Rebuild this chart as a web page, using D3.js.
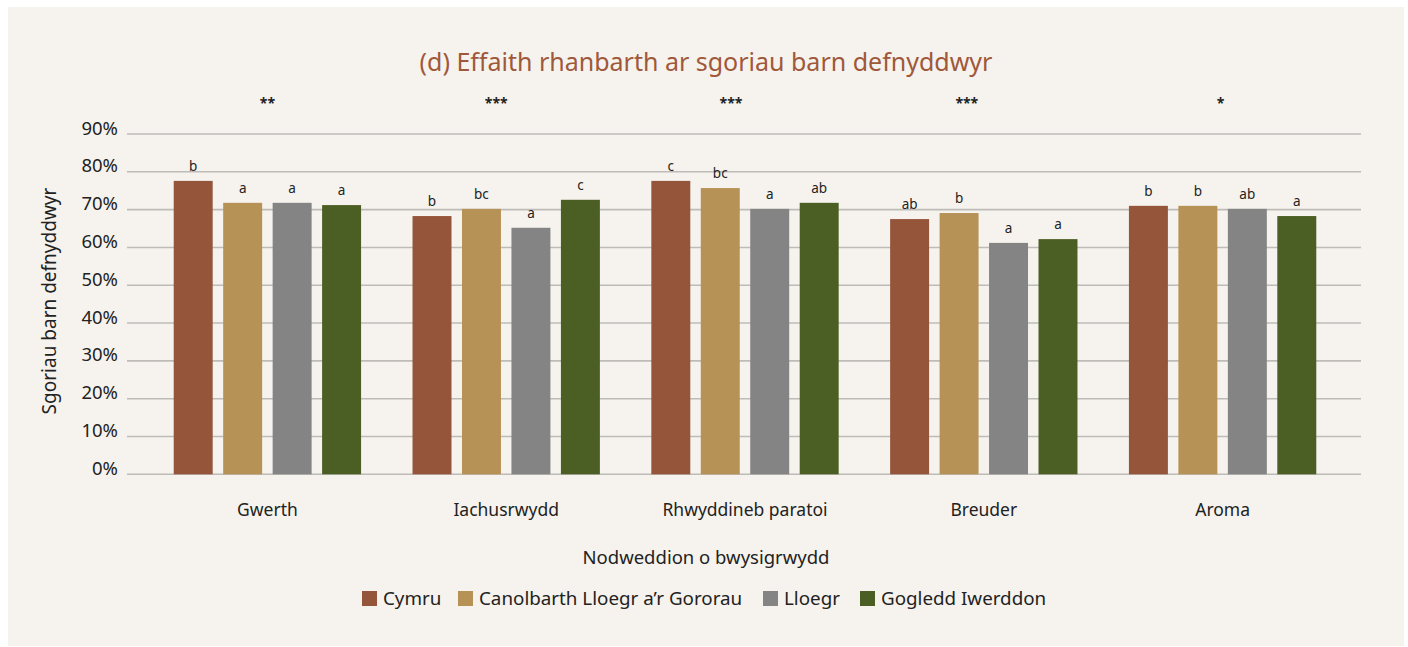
<!DOCTYPE html>
<html>
<head>
<meta charset="utf-8">
<script src="https://cdn.jsdelivr.net/npm/d3@7"></script>
<style>
  html, body { margin: 0; padding: 0; background: #ffffff; }
  svg { display: block; }
  text { font-family: "Noto Sans", Lato, sans-serif; }
</style>
</head>
<body>
<svg id="chart" width="1408" height="647"></svg>
<script>
// ---- data ----
const categories = ["Gwerth", "Iachusrwydd", "Rhwyddineb paratoi", "Breuder", "Aroma"];
const seriesNames = ["Cymru", "Canolbarth Lloegr a\u2019r Gororau", "Lloegr", "Gogledd Iwerddon"];
const cymru      = [0.776, 0.683, 0.776, 0.675, 0.710];
const canolbarth = [0.718, 0.702, 0.757, 0.691, 0.710];
const lloegr     = [0.718, 0.652, 0.702, 0.612, 0.702];
const gogledd    = [0.712, 0.726, 0.718, 0.622, 0.683];
const letters = [
  ["b", "a", "a", "a"],
  ["b", "bc", "a", "c"],
  ["c", "bc", "a", "ab"],
  ["ab", "b", "a", "a"],
  ["b", "b", "ab", "a"]
];
const significance = ["**", "***", "***", "***", "*"];
const yTicks = [0, 0.1, 0.2, 0.3, 0.4, 0.5, 0.6, 0.7, 0.8, 0.9];
const titleText = "(d) Effaith rhanbarth ar sgoriau barn defnyddwyr";
const yTitle = "Sgoriau barn defnyddwyr";
const xTitle = "Nodweddion o bwysigrwydd";

// ---- layout / styles ----
const colors = ["#94553A", "#B69256", "#848484", "#4B5E24"];
const values = [cymru, canolbarth, lloegr, gogledd];
const starNudge = [0, -10, -14, -17, -2];   // horizontal nudge of the significance marks
const fontFamily = "'Noto Sans', Lato, sans-serif";

const svg = d3.select("#chart");
svg.append("rect").attr("x", 8).attr("y", 7).attr("width", 1396).attr("height", 639)
  .attr("fill", "#F6F3EE");

const y = d3.scaleLinear().domain([0, 0.9]).range([474.3, 134]);
const gridLeft = 127, gridRight = 1361;
const x0 = d3.scaleBand().domain(categories).range([148, 1342]);
const x1 = d3.scaleBand().domain(seriesNames).range([0, x0.bandwidth()])
  .paddingInner(0.212).paddingOuter(0.52);

// gridlines
svg.append("g").selectAll("line").data(yTicks).join("line")
  .attr("x1", gridLeft).attr("x2", gridRight)
  .attr("y1", d => y(d)).attr("y2", d => y(d))
  .attr("stroke", "#BEBCB8").attr("stroke-width", 1.6);

// y axis tick labels
const yAxis = d3.axisLeft(y).tickValues(yTicks).tickFormat(d3.format(".0%")).tickSize(0).tickPadding(0);
const yg = svg.append("g").attr("transform", `translate(${gridLeft - 9},0)`).call(yAxis);
yg.select(".domain").remove();
yg.selectAll("text").attr("font-size", 18.5).attr("fill", "#222").attr("dy", "0em")
  .style("font-family", fontFamily);

// bars
const groups = svg.append("g").selectAll("g").data(categories).join("g")
  .attr("transform", d => `translate(${x0(d)},0)`);
groups.each(function(cat, ci) {
  const g = d3.select(this);
  seriesNames.forEach((s, si) => {
    const v = values[si][ci];
    g.append("rect")
      .attr("x", x1(s)).attr("width", x1.bandwidth())
      .attr("y", y(v)).attr("height", y(0) - y(v))
      .attr("fill", colors[si]);
    g.append("text")
      .attr("x", x1(s) + x1.bandwidth() / 2).attr("y", y(v) - 10)
      .attr("text-anchor", "middle").attr("font-size", 13.5).attr("fill", "#222")
      .text(letters[ci][si]);
  });
  g.append("text")
    .attr("x", x0.bandwidth() / 2 + starNudge[ci]).attr("y", 108)
    .attr("text-anchor", "middle").attr("font-size", 14).attr("font-weight", "bold").attr("fill", "#222")
    .text(significance[ci]);
});

// x axis category labels
const xAxis = d3.axisBottom(x0).tickSize(0).tickPadding(0);
const xg = svg.append("g").attr("transform", `translate(0,516)`).call(xAxis);
xg.select(".domain").remove();
xg.selectAll("text").attr("font-size", 17.5).attr("fill", "#222").attr("dy", "0em")
  .attr("y", 0).style("dominant-baseline", "alphabetic")
  .style("font-family", fontFamily);

// title
svg.append("text").attr("x", 706).attr("y", 71).attr("text-anchor", "middle")
  .attr("font-size", 25).attr("fill", "#A0583A").text(titleText);

// axis titles
svg.append("text").attr("transform", "translate(56,301) rotate(-90)")
  .attr("text-anchor", "middle").attr("font-size", 19).attr("fill", "#222").text(yTitle);
svg.append("text").attr("x", 706).attr("y", 564).attr("text-anchor", "middle")
  .attr("font-size", 18.5).attr("fill", "#222").text(xTitle);

// legend
const legendX = [362, 458, 763, 860];
const lg = svg.append("g").selectAll("g").data(seriesNames).join("g")
  .attr("transform", (d, i) => `translate(${legendX[i]},591)`);
lg.append("rect").attr("width", 15).attr("height", 15).attr("fill", (d, i) => colors[i]);
lg.append("text").attr("x", 21).attr("y", 14).attr("font-size", 18.8).attr("fill", "#222").text(d => d);
</script>
</body>
</html>
